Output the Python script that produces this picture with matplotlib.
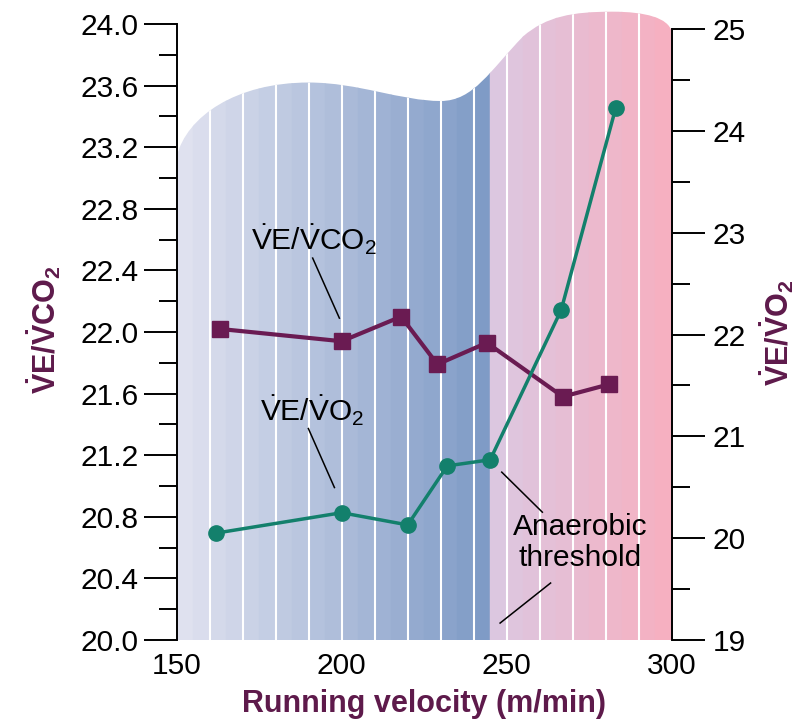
import numpy as np
import matplotlib
matplotlib.use('Agg')
import matplotlib.pyplot as plt
from matplotlib.path import Path
from matplotlib.patches import PathPatch
from matplotlib.colors import LinearSegmentedColormap

plt.rcParams['font.family'] = ['Liberation Sans', 'DejaVu Sans']
plt.rcParams['mathtext.fontset'] = 'custom'
plt.rcParams['mathtext.rm'] = 'Liberation Sans'
plt.rcParams['mathtext.it'] = 'Liberation Sans:italic'
plt.rcParams['mathtext.bf'] = 'Liberation Sans:bold'
plt.rcParams['mathtext.default'] = 'regular'

# data
velocity_co2 = [163, 200, 218, 229, 244, 267, 281]
ve_vco2 = [22.02, 21.94, 22.10, 21.79, 21.93, 21.58, 21.66]
velocity_o2 = [162, 200, 220, 232, 245, 266.5, 283]
ve_vo2 = [20.05, 20.25, 20.13, 20.71, 20.77, 22.24, 24.22]
threshold = 245

x_ticks = [150, 200, 250, 300]
left_ticks = np.arange(20.0, 24.01, 0.4)
right_ticks = np.arange(19, 25.01, 1)

purple = '#6a1b52'
label_purple = '#5e1a4b'
green = '#13806c'

fig = plt.figure(figsize=(8.04, 7.2), dpi=100)
ax1 = fig.add_axes([176.7 / 804, 80 / 720, 495 / 804, 616 / 720])
ax2 = fig.add_axes([176.7 / 804, 80 / 720, 495 / 804, 611 / 720])
ax2.set_zorder(ax1.get_zorder() + 1)
ax2.patch.set_visible(False)

ax1.set_xlim(150, 300)
ax2.set_xlim(150, 300)
ax1.set_ylim(20, 24)
ax2.set_ylim(19, 25)

# background shape with the wavy top
M, L, C, Z = Path.MOVETO, Path.LINETO, Path.CURVE4, Path.CLOSEPOLY
verts = [(150, 20), (150, 23.14),
         (153, 23.40), (168, 23.62), (190, 23.62),
         (205, 23.62), (218, 23.50), (230, 23.50),
         (240, 23.50), (245, 23.70), (255, 23.92),
         (262, 24.05), (270, 24.08), (282, 24.08),
         (292, 24.08), (299, 24.04), (300, 23.95),
         (300, 20), (150, 20)]
codes = [M, L] + [C] * 15 + [L, Z]
shape = PathPatch(Path(verts, codes), facecolor='none', edgecolor='none', clip_on=False)
ax1.add_patch(shape)

blue_cmap = LinearSegmentedColormap.from_list('b', ['#dfe1ef', '#7f9bc6'])
pink_cmap = LinearSegmentedColormap.from_list('p', ['#dcc7e0', '#f6b0c1'])
blue_edges = np.arange(150, threshold, 5)
pink_edges = np.arange(threshold, 300, 5)
strips = []
for i, x0 in enumerate(blue_edges):
    strips.append((x0, blue_cmap(i / (len(blue_edges) - 1))))
for i, x0 in enumerate(pink_edges):
    strips.append((x0, pink_cmap(i / (len(pink_edges) - 1))))
for x0, col in strips:
    b = ax1.bar(x0, 4.3, width=5, bottom=20, align='edge', color=col,
                edgecolor=col, linewidth=0.3, zorder=0)
    for p in b:
        p.set_clip_path(shape)
        p.set_clip_box(None)

vl = ax1.vlines(np.arange(160, 300, 10), 20, 24.3, color='white', lw=1.5, zorder=0.5)
vl.set_clip_path(shape)
vl.set_clip_box(None)

# series
ax1.plot(velocity_co2, ve_vco2, color=purple, lw=3, marker='s', ms=11,
         mfc=purple, mec=purple, zorder=3, clip_on=False)
ax2.plot(velocity_o2, ve_vo2, color=green, lw=2.5, marker='o', ms=11,
         mfc=green, mec=green, zorder=3, clip_on=False)

# annotations
ax1.text(191.5, 22.60, r'$\dot{V}E/\dot{V}CO_2$', fontsize=21.5, ha='center', va='center')
ax1.plot([191.2, 199.3], [22.48, 22.09], color='black', lw=1.1)
ax1.text(190.9, 21.49, r'$\dot{V}E/\dot{V}O_2$', fontsize=21.5, ha='center', va='center')
ax1.plot([189.9, 197.8], [21.373, 20.99], color='black', lw=1.1)
ax1.text(272.4, 20.635, 'Anaerobic\nthreshold', fontsize=21.5, ha='center', va='center',
         linespacing=1.12)
ax1.plot([248.5, 260.8], [21.09, 20.83], color='black', lw=1.1)
ax1.plot([248.0, 263.3], [20.11, 20.37], color='black', lw=1.1)

# axes styling
for s in ['top', 'right', 'bottom']:
    ax1.spines[s].set_visible(False)
for s in ['top', 'left', 'bottom']:
    ax2.spines[s].set_visible(False)
ax1.spines['left'].set_linewidth(1.4)
ax2.spines['right'].set_linewidth(1.4)

ax1.set_xticks(x_ticks)
ax1.set_xticklabels([str(v) for v in x_ticks])
ax1.tick_params(axis='x', length=0, pad=9, labelsize=21.5)

ax1.set_yticks(left_ticks)
ax1.set_yticklabels([f'{v:.1f}' for v in left_ticks])
ax1.set_yticks(np.arange(20.2, 24.0, 0.4), minor=True)
ax1.tick_params(axis='y', which='major', length=23.8, width=1.4, pad=3.6, labelsize=21.5)
ax1.tick_params(axis='y', which='minor', length=13, width=1.4)

ax2.set_xticks([])
ax2.yaxis.tick_right()
ax2.set_yticks(right_ticks)
ax2.set_yticklabels([str(int(v)) for v in right_ticks])
ax2.set_yticks(np.arange(19.5, 25, 1), minor=True)
ax2.tick_params(axis='y', which='major', length=23.8, width=1.4, pad=5.5, labelsize=21.5)
ax2.tick_params(axis='y', which='minor', length=13, width=1.4)

fig.text(424 / 804, (720 - 711.7) / 720, 'Running velocity (m/min)', fontsize=22,
         fontweight='bold', color=label_purple, ha='center', va='baseline')
fig.text(44 / 804, 1 - 330 / 720, r'$\dot{V}E/\dot{V}CO_2$', fontsize=22, fontweight='bold',
         color=label_purple, rotation=90, ha='center', va='center')
fig.text(777 / 804, 1 - 333 / 720, r'$\dot{V}E/\dot{V}O_2$', fontsize=22, fontweight='bold',
         color=label_purple, rotation=90, ha='center', va='center')

fig.savefig('out.png', dpi=100)
